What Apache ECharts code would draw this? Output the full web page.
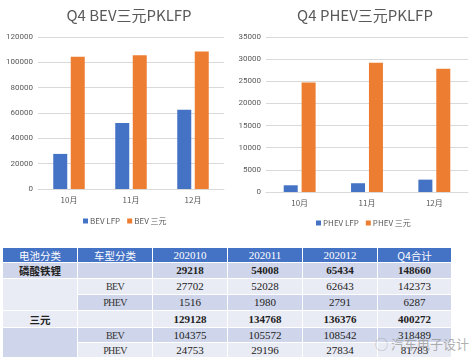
<!DOCTYPE html>
<html>
<head>
<meta charset="utf-8">
<script src="https://cdn.jsdelivr.net/npm/echarts@6/dist/echarts.min.js"></script>
<style>
  html, body { margin:0; padding:0; background:#fff; }
  #wrap { position:relative; width:476px; height:362px; overflow:hidden; }
  #chart { position:absolute; left:0; top:0; width:476px; height:240px; }
  #tbl { position:absolute; left:2px; top:247px; border-collapse:collapse; table-layout:fixed; }
  #tbl td { border:1px solid #fff; height:14px; padding:0; text-align:center; vertical-align:middle;
            font-family:"Liberation Serif","DejaVu Serif",serif; font-size:11px; color:#222; line-height:13px; overflow:hidden; white-space:nowrap; }
  #tbl tr.hd td { background:#4472C4; color:#fff; font-family:"Noto Sans CJK SC","Liberation Serif",serif; font-size:10.5px; }
  #tbl tr.hd td.num { font-family:"Liberation Serif",serif; font-size:11px; }
  #tbl td.d { background:#CFD5EA; }
  #tbl td.l { background:#E9EBF5; }
  #tbl td.cn { font-family:"Noto Sans CJK SC",sans-serif; font-size:10.5px; font-weight:bold; }
  #tbl td.mono { font-family:"Liberation Serif","DejaVu Serif",serif; font-size:10px; letter-spacing:-0.6px; font-weight:normal; color:#333; }
  #tbl tr.b td { font-weight:bold; }
  #wm { position:absolute; left:375px; top:334px; font-family:"Noto Sans CJK SC",sans-serif; font-size:13px; color:rgba(150,150,150,0.75); }
</style>
</head>
<body>
<div id="wrap">
  <div id="chart"></div>
  <table id="tbl"></table>
  <div id="wm">◯&nbsp;汽车电子设计</div>
</div>
<script>
// ---- chart data ----
var months = ['10月', '11月', '12月'];
var bevLfp = [27702, 52028, 62643];
var bevTernary = [104375, 105572, 108542];
var phevLfp = [1516, 1980, 2791];
var phevTernary = [24753, 29196, 27834];

// ---- table data ----
var tableHeader = ['电池分类', '车型分类', '202010', '202011', '202012', 'Q4合计'];
var lfpTotalRow = [29218, 54008, 65434, 148660];
var lfpBevRow = [27702, 52028, 62643, 142373];
var lfpPhevRow = [1516, 1980, 2791, 6287];
var ternTotalRow = [129128, 134768, 136376, 400272];
var ternBevRow = [104375, 105572, 108542, 318489];
var ternPhevRow = [24753, 29196, 27834, 81783];

var blue = '#4472C4', orange = '#ED7D31', txt = '#595959', grid = '#D9D9D9';

var chart = echarts.init(document.getElementById('chart'), null, {renderer: 'canvas'});

function yAxis(gi, max, interval) {
  return {
    gridIndex: gi, type: 'value', min: 0, max: max, interval: interval,
    axisLine: {show: false}, axisTick: {show: false},
    axisLabel: {color: txt, fontSize: 8, margin: 5, fontFamily: 'Roboto',
                formatter: function (v) { return String(v); }},
    splitLine: {lineStyle: {color: grid, width: 1}}
  };
}
function xAxis(gi) {
  return {
    gridIndex: gi, type: 'category', data: months,
    axisLine: {lineStyle: {color: grid}}, axisTick: {show: false},
    axisLabel: {color: txt, fontSize: 8, margin: 7, fontFamily: 'Noto Sans CJK SC'}
  };
}

chart.setOption({
  animation: false,
  backgroundColor: '#fff',
  title: [
    {text: 'Q4 BEV三元PKLFP', left: 124, top: 3, textAlign: 'center',
     textStyle: {color: txt, fontSize: 15, fontWeight: 'normal', fontFamily: 'Noto Sans CJK SC'}},
    {text: 'Q4 PHEV三元PKLFP', left: 360, top: 3, textAlign: 'center',
     textStyle: {color: txt, fontSize: 15, fontWeight: 'normal', fontFamily: 'Noto Sans CJK SC'}}
  ],
  legend: [
    {data: ['BEV LFP', 'BEV 三元'], left: 78, top: 212, icon: 'rect', itemWidth: 5, itemHeight: 5, itemGap: 7,
     textStyle: {color: txt, fontSize: 8, padding: [0, 0, 0, -3], fontFamily: 'Noto Sans CJK SC'}},
    {data: ['PHEV LFP', 'PHEV 三元'], left: 311, top: 214, icon: 'rect', itemWidth: 5, itemHeight: 5, itemGap: 7,
     textStyle: {color: txt, fontSize: 8, padding: [0, 0, 0, -3], fontFamily: 'Noto Sans CJK SC'}}
  ],
  grid: [
    {left: 38, top: 37, width: 186, height: 152},
    {left: 266, top: 37, width: 202, height: 155}
  ],
  xAxis: [xAxis(0), xAxis(1)],
  yAxis: [yAxis(0, 120000, 20000), yAxis(1, 35000, 5000)],
  series: [
    {name: 'BEV LFP', type: 'bar', xAxisIndex: 0, yAxisIndex: 0, data: bevLfp, barWidth: 14, barGap: '25%', itemStyle: {color: blue}},
    {name: 'BEV 三元', type: 'bar', xAxisIndex: 0, yAxisIndex: 0, data: bevTernary, barWidth: 14, barGap: '25%', itemStyle: {color: orange}},
    {name: 'PHEV LFP', type: 'bar', xAxisIndex: 1, yAxisIndex: 1, data: phevLfp, barWidth: 14, barGap: '28%', itemStyle: {color: blue}},
    {name: 'PHEV 三元', type: 'bar', xAxisIndex: 1, yAxisIndex: 1, data: phevTernary, barWidth: 14, barGap: '28%', itemStyle: {color: orange}}
  ]
});

// ---- build table ----
var colW = [75, 75, 75, 75, 75, 74];
var rowH = [14, 15, 15, 15, 16, 14, 14];
var tbl = document.getElementById('tbl');
var cg = document.createElement('colgroup');
colW.forEach(function (w) { var c = document.createElement('col'); c.style.width = w + 'px'; cg.appendChild(c); });
tbl.appendChild(cg);
tbl.style.width = colW.reduce(function (a, b) { return a + b; }, 0) + 'px';

function addRow(cells, cls, h) {
  var tr = document.createElement('tr');
  if (cls) tr.className = cls;
  cells.forEach(function (c) {
    var td = document.createElement('td');
    td.textContent = c.t;
    if (c.c) td.className = c.c;
    if (c.rs) td.rowSpan = c.rs;
    td.style.height = h + 'px';
    tr.appendChild(td);
  });
  tbl.appendChild(tr);
}
function nums(arr, bg) { return arr.map(function (v) { return {t: String(v), c: bg}; }); }

addRow(tableHeader.map(function (t, i) { return {t: t, c: i >= 2 && i < 5 ? 'num' : ''}; }), 'hd', rowH[0]);
addRow([{t: '磷酸铁锂', c: 'd cn'}, {t: '', c: 'd'}].concat(nums(lfpTotalRow, 'd')), 'b', rowH[1]);
addRow([{t: '', c: 'l', rs: 2}, {t: 'BEV', c: 'l mono'}].concat(nums(lfpBevRow, 'l')), '', rowH[2]);
addRow([{t: 'PHEV', c: 'd mono'}].concat(nums(lfpPhevRow, 'd')), '', rowH[3]);
addRow([{t: '三元', c: 'l cn'}, {t: '', c: 'l'}].concat(nums(ternTotalRow, 'l')), 'b', rowH[4]);
addRow([{t: '', c: 'd', rs: 2}, {t: 'BEV', c: 'd mono'}].concat(nums(ternBevRow, 'd')), '', rowH[5]);
addRow([{t: 'PHEV', c: 'l mono'}].concat(nums(ternPhevRow, 'l')), '', rowH[6]);
</script>
</body>
</html>
